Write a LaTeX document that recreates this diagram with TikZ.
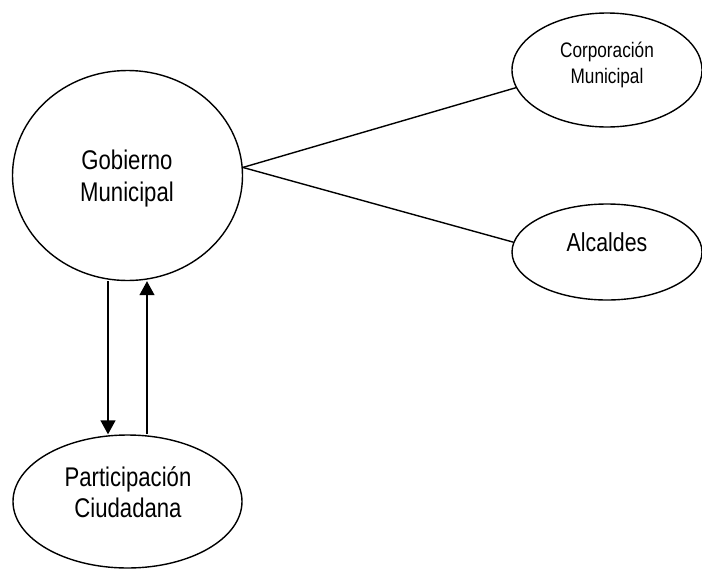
\documentclass[tikz,border=0pt]{standalone}
\usepackage{fontspec}
\setmainfont[FakeStretch=0.82]{Liberation Sans}
\usetikzlibrary{shapes.geometric,arrows.meta}
\begin{document}
\begin{tikzpicture}[x=1pt,y=-1pt,
  bub/.style={draw, ellipse, line width=1.4pt, inner sep=0pt},
  lbl/.style={align=center, inner sep=0pt},
  conn/.style={line width=1.4pt},
  arr/.style={line width=1.4pt, -{Triangle[length=14pt,width=15pt]}}]
\useasboundingbox[fill=white] (0,0) rectangle (702,571);
% shapes
\node[bub, minimum width=230pt, minimum height=210pt] (gob) at (127.5,175.5) {};
\node[bub, minimum width=190pt, minimum height=114pt] (corp) at (607,70) {};
\node[bub, minimum width=190pt, minimum height=96pt] (alc) at (607,252) {};
\node[bub, minimum width=229pt, minimum height=133pt] (par) at (127.5,501.5) {};
% texts
\node[lbl, font=\fontsize{27}{32}\selectfont] (gobt) at (127,179) {Gobierno\\Municipal};
\node[lbl, font=\fontsize{21}{26}\selectfont] (corpt) at (607,65) {Corporación\\Municipal};
\node[lbl, font=\fontsize{26}{31}\selectfont] (alct) at (607,242) {Alcaldes};
\node[lbl, font=\fontsize{27}{31}\selectfont] (part) at (128,492) {Participación\\Ciudadana};
% connectors
\draw[conn] (gob.4) -- (corp.191);
\draw[conn] (gob.4) -- (alc.174);
\coordinate (xd) at (108,0);
\coordinate (xu) at (147,0);
\draw[arr] (gob.south -| xd) -- (par.north -| xd);
\draw[arr] (par.north -| xu) -- (gob.south -| xu);
\end{tikzpicture}
\end{document}
